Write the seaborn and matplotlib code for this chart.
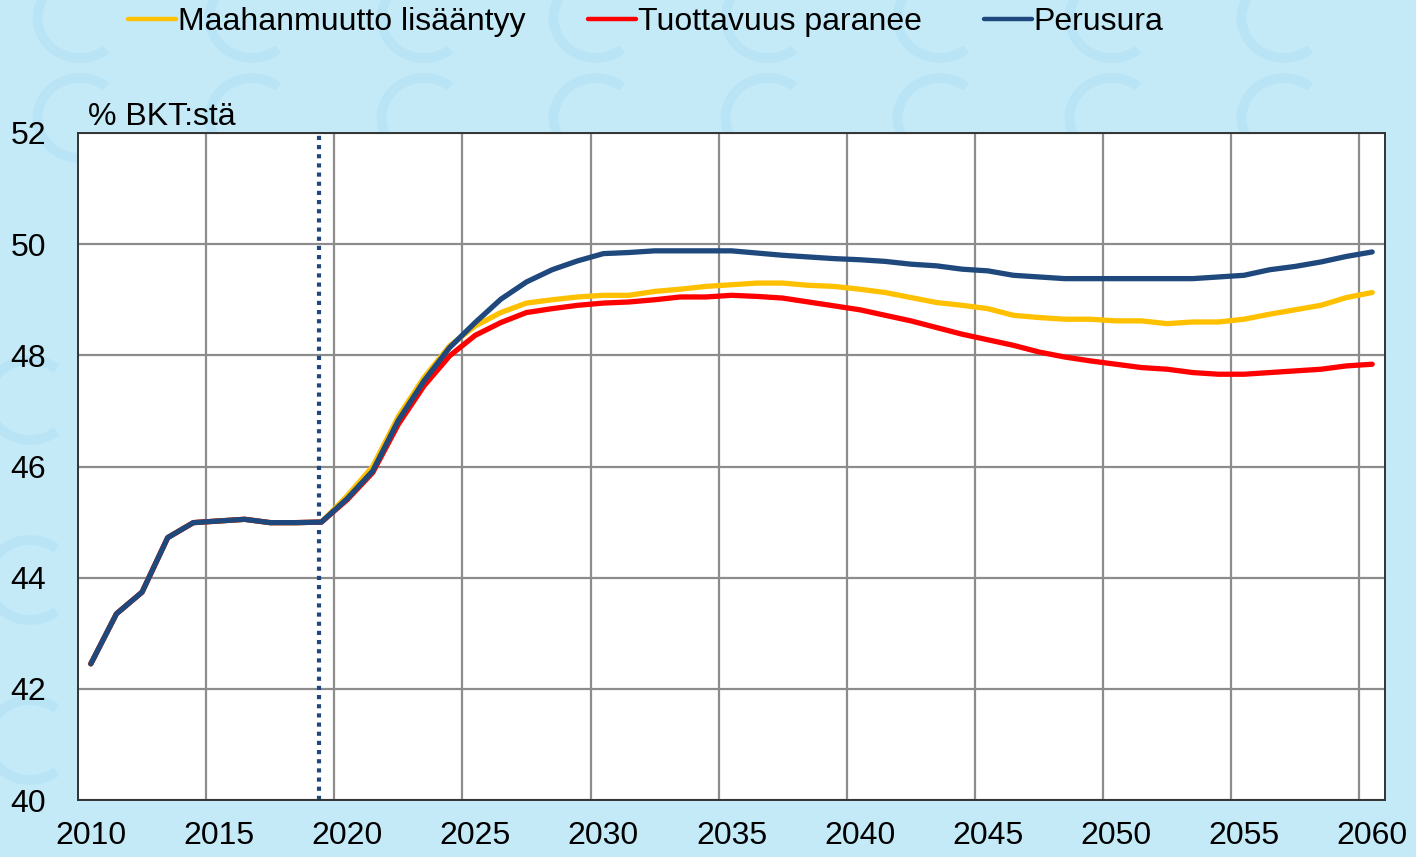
import numpy as np
import pandas as pd
import seaborn as sns
import matplotlib
matplotlib.use("Agg")
import matplotlib.pyplot as plt
from matplotlib.patches import Arc

years = list(range(2010, 2061))

common = [42.45, 43.35, 43.74, 44.72, 44.99, 45.02, 45.05, 44.99, 44.99, 45.00]

maahanmuutto = common + [
    45.47, 46.00, 46.90, 47.60, 48.17, 48.53, 48.77, 48.94, 49.00, 49.05,
    49.08, 49.08, 49.15, 49.19, 49.24, 49.27, 49.30, 49.30, 49.26, 49.24,
    49.19, 49.13, 49.04, 48.95, 48.90, 48.84, 48.72, 48.68, 48.65, 48.65,
    48.62, 48.62, 48.57, 48.60, 48.60, 48.65, 48.74, 48.82, 48.90, 49.04,
    49.13]

tuottavuus = common + [
    45.40, 45.89, 46.76, 47.45, 47.99, 48.36, 48.59, 48.77, 48.84, 48.90,
    48.94, 48.96, 49.00, 49.05, 49.05, 49.08, 49.06, 49.03, 48.96, 48.89,
    48.82, 48.72, 48.62, 48.50, 48.38, 48.28, 48.18, 48.06, 47.97, 47.90,
    47.84, 47.78, 47.75, 47.69, 47.66, 47.66, 47.69, 47.72, 47.75, 47.81,
    47.84]

perusura = common + [
    45.42, 45.92, 46.83, 47.54, 48.14, 48.59, 49.01, 49.32, 49.54, 49.70,
    49.83, 49.85, 49.88, 49.88, 49.88, 49.88, 49.84, 49.80, 49.77, 49.74,
    49.72, 49.69, 49.64, 49.61, 49.55, 49.52, 49.44, 49.41, 49.38, 49.38,
    49.38, 49.38, 49.38, 49.38, 49.41, 49.44, 49.54, 49.60, 49.68, 49.78,
    49.86]

series_names = ["Maahanmuutto lisääntyy", "Tuottavuus paranee", "Perusura"]
series_colors = ["#FFC000", "#FF0000", "#1F497D"]
x_tick_labels = [str(y) for y in range(2010, 2061, 5)]
y_ticks = [40, 42, 44, 46, 48, 50, 52]
forecast_start = 2018.9

df = pd.DataFrame({
    "year": years * 3,
    "value": maahanmuutto + tuottavuus + perusura,
    "series": [series_names[0]] * len(years) + [series_names[1]] * len(years)
              + [series_names[2]] * len(years),
})

sns.set_theme(style="white")
plt.rcParams["font.family"] = ["Liberation Sans", "DejaVu Sans"]
plt.rcParams["text.color"] = "black"

bg = "#c4eaf8"
W, H = 1416, 857
fig = plt.figure(figsize=(W / 100, H / 100), dpi=100, facecolor=bg)
ax = fig.add_axes([78 / W, 1 - 800 / H, (1385 - 78) / W, (800 - 133) / H])
ax.set_facecolor("white")

# faint decorative euro-like arcs in the background (drawn in inches)
arc_col = "#b9e4f5"
for cy in [857 - 18, 857 - 118]:
    for cx in np.arange(80, 1450, 172):
        fig.add_artist(Arc((cx / 100, cy / 100), 0.85, 0.8, theta1=50, theta2=310,
                           lw=7, color=arc_col, transform=fig.dpi_scale_trans,
                           zorder=-5))
for cy in [857 - 400, 857 - 580, 857 - 740]:
    fig.add_artist(Arc((30 / 100, cy / 100), 0.85, 0.8, theta1=50, theta2=310,
                       lw=7, color=arc_col, transform=fig.dpi_scale_trans,
                       zorder=-5))

sns.lineplot(data=df, x="year", y="value", hue="series", hue_order=series_names,
             palette=series_colors, linewidth=3.8, ax=ax, legend=False,
             solid_capstyle="round")

ax.axvline(forecast_start, color="#1F497D", linestyle=(0, (1, 1.2)), linewidth=3.0,
           zorder=1)

ax.set_xlim(2009.5, 2060.5)
ax.set_ylim(40, 52)
ax.set_yticks(y_ticks)
ax.set_yticklabels([str(v) for v in y_ticks])
ax.set_xticks(list(range(2010, 2061, 5)))
ax.set_xticklabels(x_tick_labels)
ax.set_xticks(list(np.arange(2014.5, 2060, 5)), minor=True)
ax.grid(False)
ax.yaxis.grid(True, color="#8c8c8c", linewidth=1.6)
ax.xaxis.grid(True, which="minor", color="#8c8c8c", linewidth=1.6)
ax.set_axisbelow(True)
ax.tick_params(axis="both", which="both", length=0, labelsize=23, colors="black")
ax.tick_params(axis="y", pad=23)
ax.tick_params(axis="x", pad=15)
ax.set_xlabel("")
ax.set_ylabel("")
for s in ax.spines.values():
    s.set_color("#333333")
    s.set_linewidth(1.4)
    s.set_visible(True)

fig.text(88 / W, 1 - 117 / H, "% BKT:stä", fontsize=23, ha="left", va="center",
         color="black")

handles = [plt.Line2D([], [], color=c, linewidth=3.2) for c in series_colors]
leg = fig.legend(handles, series_names, loc="center", bbox_to_anchor=(0.456, 1 - 22 / H),
                 ncol=3, frameon=False, fontsize=23, handlelength=1.5,
                 handletextpad=0.06, columnspacing=1.95, borderpad=0.1)
for t in leg.get_texts():
    t.set_color("black")

fig.savefig("out.png", dpi=100, facecolor=bg)
